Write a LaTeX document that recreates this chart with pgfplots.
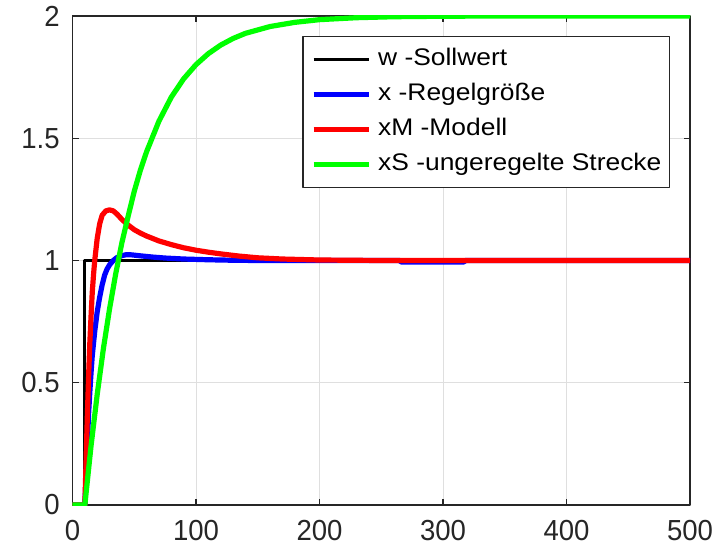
\documentclass[border=0pt]{standalone}
\usepackage{pgfplots}
\pgfplotsset{compat=1.18}
\usepackage{fontspec}
\setmainfont{Liberation Sans}
\newfontfamily\tickfont[FakeStretch=0.95]{Liberation Sans}
\newfontfamily\legfont[FakeStretch=1.1]{Liberation Sans}
\definecolor{mgray}{RGB}{38,38,38}
\definecolor{mgrid}{RGB}{223,223,223}
\definecolor{mblue}{RGB}{0,0,255}
\definecolor{mred}{RGB}{255,0,0}
\definecolor{mgreen}{RGB}{0,255,0}
\begin{document}
\begin{tikzpicture}
\useasboundingbox (-36.25pt,-22.5pt) rectangle (326.75pt,252.5pt);
\begin{axis}[
  at={(0,0)}, anchor=south west,
  scale only axis, width=308.75pt, height=244.5pt,
  xmin=0, xmax=500, ymin=0, ymax=2,
  xtick={0,100,200,300,400,500},
  xticklabels={0,100,200,300,400,500},
  ytick={0,0.5,1,1.5,2},
  yticklabels={0,0.5,1,1.5,2},
  tick pos=both, tick align=inside,
  major tick length=3pt,
  grid=major,
  major grid style={mgrid, line width=0.5pt},
  axis line style={mgray, line width=0.6pt},
  tick style={mgray, line width=0.6pt},
  tick label style={font=\tickfont\fontsize{14.5}{16}\selectfont, text=mgray, inner sep=0pt},
  xticklabel style={anchor=north, yshift=-7.5pt},
  yticklabel style={anchor=east, xshift=-6.25pt},
  legend cell align=left,
  legend image code/.code={\draw[#1] (0pt,0pt) -- (27.5pt,0pt);},
  legend style={at={(0.9676,0.959)}, anchor=north east, draw=mgray, line width=0.6pt,
    fill=white, font=\legfont\fontsize{12}{14}\selectfont,
    inner xsep=4pt, inner ysep=5.5pt, row sep=5.5pt, column sep=3.5pt,
    nodes={inner sep=0pt, text height=9pt, text depth=3pt}},
  line join=round,
]
\addplot[black, line width=1.6pt] coordinates {(0,0) (10,0) (10,1) (500,1)};
\addlegendentry{w -Sollwert}
\addplot[mblue, line width=2.6pt] coordinates {
(0,0) (10,0) (11,0.12) (12,0.25) (13,0.37) (14,0.46) (15,0.54) (16,0.61) (18,0.71)
(20,0.79) (22,0.85) (24,0.90) (26,0.94) (28,0.965) (30,0.982) (33,1.0) (36,1.012)
(40,1.02) (44,1.024) (48,1.023) (55,1.019) (65,1.014) (75,1.01) (90,1.006)
(110,1.003) (130,1.001) (150,1.0) (265,1.0) (266,0.994) (317,0.994) (318,1.0) (500,1.0)};
\addlegendentry{x -Regelgröße}
\addplot[mred, line width=2.6pt] coordinates {
(0,0) (10,0) (11,0.18) (12,0.36) (13,0.52) (14,0.66) (15,0.77) (16,0.87) (17,0.94)
(18,1.0) (20,1.09) (22,1.15) (24,1.185) (27,1.203) (30,1.207) (33,1.203) (36,1.19)
(40,1.168) (45,1.145) (50,1.126) (55,1.112) (60,1.10) (65,1.09) (70,1.08) (80,1.065)
(90,1.052) (100,1.042) (110,1.034) (120,1.027) (135,1.018) (150,1.011) (170,1.006)
(200,1.002) (250,1.0) (500,1.0)};
\addlegendentry{xM -Modell}
\addplot[mgreen, line width=2.6pt] coordinates {
(0,0) (10,0) (15,0.241) (20,0.452) (25,0.639) (30,0.802) (35,0.946) (40,1.073)
(45,1.18) (50,1.283) (55,1.37) (60,1.445) (70,1.570) (80,1.668) (90,1.743)
(100,1.801) (110,1.846) (120,1.881) (130,1.908) (140,1.929) (160,1.957) (180,1.974)
(200,1.985) (230,1.993) (260,1.997) (300,1.999) (350,2.0) (500,2.0)};
\addlegendentry{xS -ungeregelte Strecke}
\end{axis}
\end{tikzpicture}
\end{document}
